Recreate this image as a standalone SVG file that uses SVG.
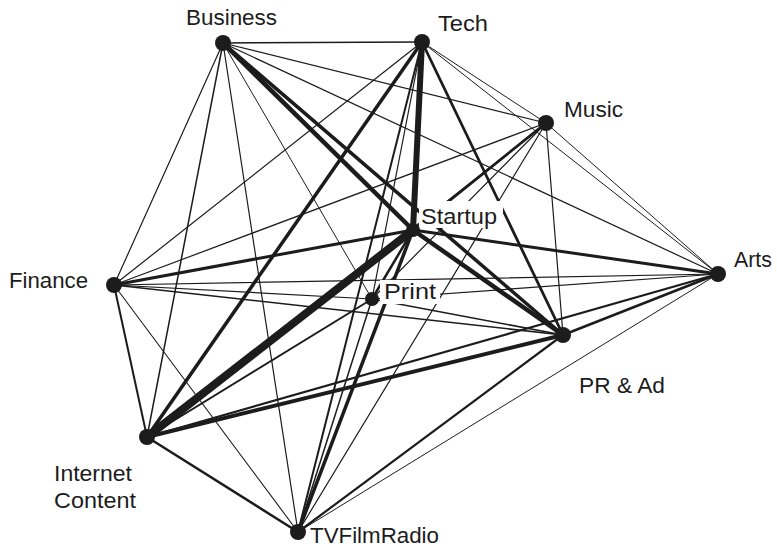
<svg xmlns="http://www.w3.org/2000/svg" width="777" height="549" viewBox="0 0 777 549">
  <style>
    .e { stroke: #1c1c1c; fill: none; stroke-linecap: round; }
    .n circle { fill: #1c1c1c; }
    .n text { font-family: "Liberation Sans", Arial, sans-serif; font-size: 22.5px; fill: #1c1c1c; }
    .bg { fill: #ffffff; }
  </style>
  <rect width="777" height="549" fill="#ffffff"/>

  <!-- weighted links between categories -->
  <g id="connectors">
    <!-- Business -->
    <line class="e" x1="223" y1="43" x2="422" y2="42" stroke-width="1.5"/>
    <line class="e" x1="223" y1="43" x2="546" y2="123" stroke-width="1.2"/>
    <line class="e" x1="223" y1="43" x2="413" y2="230" stroke-width="4.5"/>
    <line class="e" x1="223" y1="43" x2="718" y2="274" stroke-width="1.2"/>
    <line class="e" x1="223" y1="43" x2="114" y2="285" stroke-width="1.2"/>
    <line class="e" x1="223" y1="43" x2="372" y2="299" stroke-width="1"/>
    <line class="e" x1="223" y1="43" x2="563" y2="335" stroke-width="3.5"/>
    <line class="e" x1="223" y1="43" x2="147" y2="437" stroke-width="1.5"/>
    <line class="e" x1="223" y1="43" x2="298" y2="532" stroke-width="1.2"/>
    <!-- Tech -->
    <line class="e" x1="422" y1="42" x2="546" y2="123" stroke-width="1"/>
    <line class="e" x1="422" y1="42" x2="413" y2="230" stroke-width="6"/>
    <line class="e" x1="422" y1="42" x2="718" y2="274" stroke-width="1"/>
    <line class="e" x1="422" y1="42" x2="114" y2="285" stroke-width="1.2"/>
    <line class="e" x1="422" y1="42" x2="372" y2="299" stroke-width="1.2"/>
    <line class="e" x1="422" y1="42" x2="563" y2="335" stroke-width="2.8"/>
    <line class="e" x1="422" y1="42" x2="147" y2="437" stroke-width="3.5"/>
    <line class="e" x1="422" y1="42" x2="298" y2="532" stroke-width="2"/>
    <!-- Music -->
    <line class="e" x1="546" y1="123" x2="413" y2="230" stroke-width="2.8"/>
    <line class="e" x1="546" y1="123" x2="718" y2="274" stroke-width="1"/>
    <line class="e" x1="546" y1="123" x2="114" y2="285" stroke-width="1.2"/>
    <line class="e" x1="546" y1="123" x2="372" y2="299" stroke-width="1.2"/>
    <line class="e" x1="546" y1="123" x2="563" y2="335" stroke-width="1.2"/>
    <line class="e" x1="546" y1="123" x2="147" y2="437" stroke-width="1"/>
    <line class="e" x1="546" y1="123" x2="298" y2="532" stroke-width="1.2"/>
    <!-- Startup -->
    <line class="e" x1="413" y1="230" x2="718" y2="274" stroke-width="3"/>
    <line class="e" x1="413" y1="230" x2="114" y2="285" stroke-width="3"/>
    <line class="e" x1="413" y1="230" x2="372" y2="299" stroke-width="2.5"/>
    <line class="e" x1="413" y1="230" x2="563" y2="335" stroke-width="4.5"/>
    <line class="e" x1="413" y1="230" x2="147" y2="437" stroke-width="8"/>
    <line class="e" x1="413" y1="230" x2="298" y2="532" stroke-width="3.5"/>
    <!-- Arts -->
    <line class="e" x1="718" y1="274" x2="114" y2="285" stroke-width="1.2"/>
    <line class="e" x1="718" y1="274" x2="372" y2="299" stroke-width="1.2"/>
    <line class="e" x1="718" y1="274" x2="563" y2="335" stroke-width="2.5"/>
    <line class="e" x1="718" y1="274" x2="147" y2="437" stroke-width="2.2"/>
    <line class="e" x1="718" y1="274" x2="298" y2="532" stroke-width="1"/>
    <!-- Finance -->
    <line class="e" x1="114" y1="285" x2="372" y2="299" stroke-width="1.2"/>
    <line class="e" x1="114" y1="285" x2="563" y2="335" stroke-width="1.5"/>
    <line class="e" x1="114" y1="285" x2="147" y2="437" stroke-width="2"/>
    <line class="e" x1="114" y1="285" x2="298" y2="532" stroke-width="1.1"/>
    <!-- Print -->
    <line class="e" x1="372" y1="299" x2="563" y2="335" stroke-width="1.5"/>
    <line class="e" x1="372" y1="299" x2="147" y2="437" stroke-width="2"/>
    <line class="e" x1="372" y1="299" x2="298" y2="532" stroke-width="1.5"/>
    <!-- PR & Ad -->
    <line class="e" x1="563" y1="335" x2="147" y2="437" stroke-width="4"/>
    <line class="e" x1="563" y1="335" x2="298" y2="532" stroke-width="2.2"/>
    <!-- Internet Content -->
    <line class="e" x1="147" y1="437" x2="298" y2="532" stroke-width="2.5"/>
  </g>

  <g id="business" class="n">
    <circle cx="223" cy="43" r="8"/>
    <text x="186" y="25" textLength="91" lengthAdjust="spacingAndGlyphs">Business</text>
  </g>
  <g id="tech" class="n">
    <circle cx="422" cy="42" r="8"/>
    <text x="438" y="31" textLength="50" lengthAdjust="spacingAndGlyphs">Tech</text>
  </g>
  <g id="music" class="n">
    <circle cx="546" cy="123" r="8"/>
    <text x="564" y="117" textLength="59" lengthAdjust="spacingAndGlyphs">Music</text>
  </g>
  <g id="startup" class="n">
    <rect class="bg" x="419" y="201" width="84" height="27"/>
    <circle cx="413" cy="230" r="7"/>
    <text x="421" y="224" textLength="76" lengthAdjust="spacingAndGlyphs">Startup</text>
  </g>
  <g id="arts" class="n">
    <circle cx="718" cy="274" r="8"/>
    <text x="734" y="267" textLength="38" lengthAdjust="spacingAndGlyphs">Arts</text>
  </g>
  <g id="finance" class="n">
    <circle cx="114" cy="285" r="8"/>
    <text x="9" y="288" textLength="79" lengthAdjust="spacingAndGlyphs">Finance</text>
  </g>
  <g id="print" class="n">
    <rect class="bg" x="380" y="280" width="60" height="24"/>
    <circle cx="372" cy="299" r="7"/>
    <text x="384" y="299" textLength="52" lengthAdjust="spacingAndGlyphs">Print</text>
  </g>
  <g id="pr-ad" class="n">
    <circle cx="563" cy="335" r="8"/>
    <text x="579" y="393" textLength="86" lengthAdjust="spacingAndGlyphs">PR &amp; Ad</text>
  </g>
  <g id="internet-content" class="n">
    <circle cx="147" cy="437" r="8"/>
    <text x="54" y="481" textLength="78" lengthAdjust="spacingAndGlyphs">Internet</text>
    <text x="54" y="508" textLength="82" lengthAdjust="spacingAndGlyphs">Content</text>
  </g>
  <g id="tvfilmradio" class="n">
    <circle cx="298" cy="532" r="8"/>
    <text x="310" y="543" textLength="129" lengthAdjust="spacingAndGlyphs">TVFilmRadio</text>
  </g>
</svg>
